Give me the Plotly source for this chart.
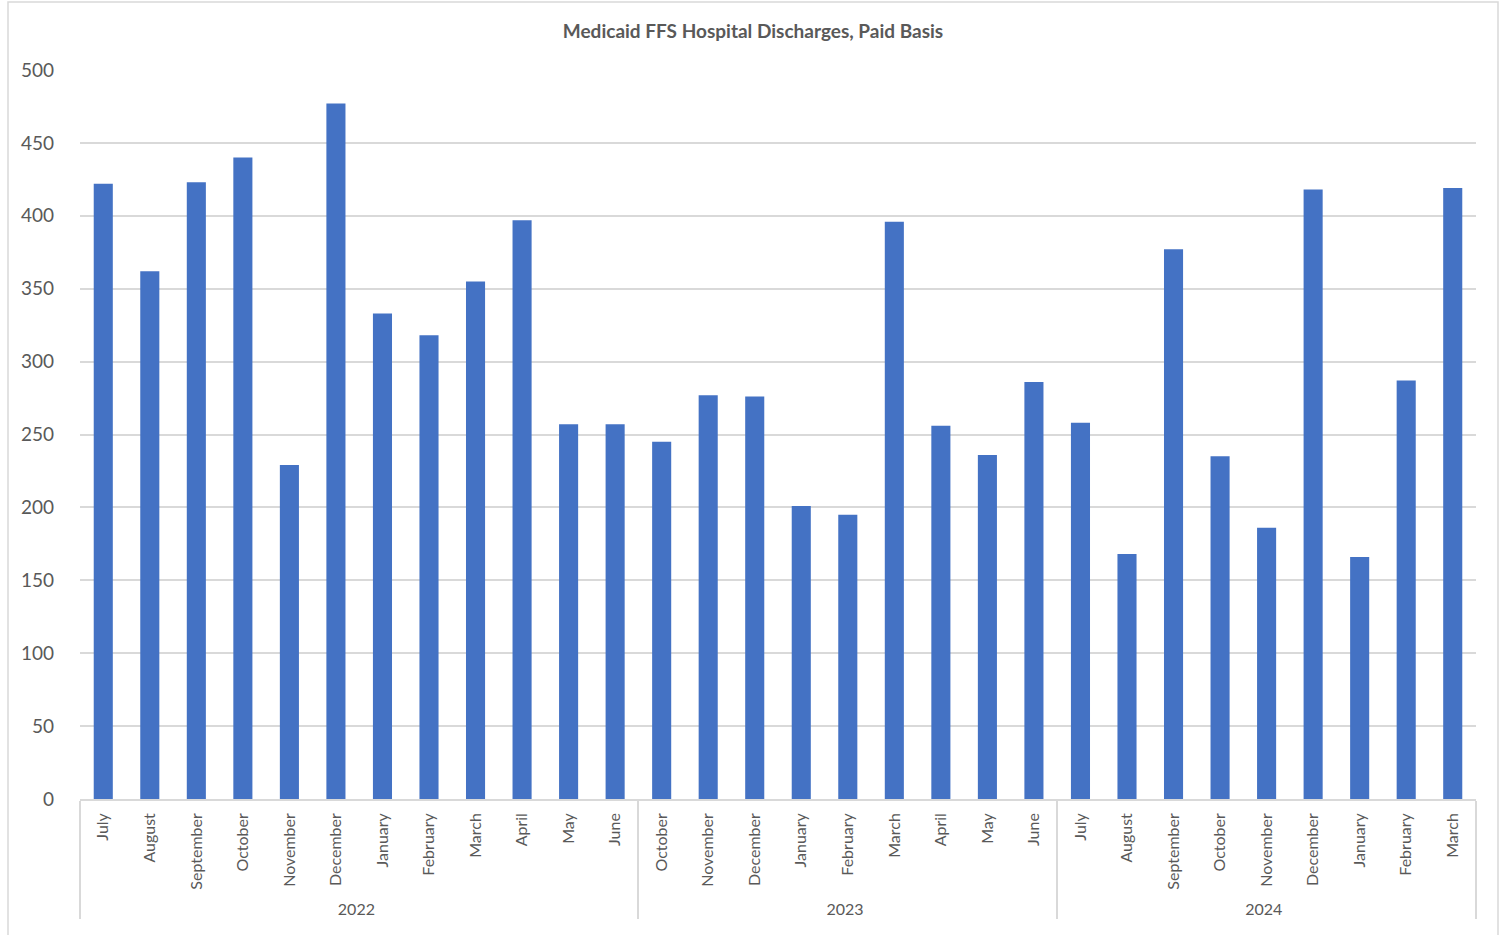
import plotly.graph_objects as go

# Fiscal year groups and the months within each
years = ["2022"] * 12 + ["2023"] * 9 + ["2024"] * 9
months = [
    "July", "August", "September", "October", "November", "December",
    "January", "February", "March", "April", "May", "June",
    "October", "November", "December", "January", "February", "March",
    "April", "May", "June",
    "July", "August", "September", "October", "November", "December",
    "January", "February", "March",
]
discharges = [
    422, 362, 423, 440, 229, 477, 333, 318, 355, 397, 257, 257,
    245, 277, 276, 201, 195, 396, 256, 236, 286,
    258, 168, 377, 235, 186, 418, 166, 287, 419,
]

W, H = 1506, 935
L, R, T, B = 80, 30, 70, 136
pw, ph = W - L - R, H - T - B


def px_x(x):
    return (x - L) / pw


def px_y(y):
    return (H - B - y) / ph


fig = go.Figure(
    go.Bar(
        x=[years, months],
        y=discharges,
        marker=dict(color="#4472C4", line=dict(width=0)),
    )
)

fig.update_layout(
    width=W,
    height=H,
    margin=dict(l=L, r=R, t=T, b=B),
    paper_bgcolor="white",
    plot_bgcolor="white",
    bargap=0.59,
    showlegend=False,
    title=dict(
        text="<b>Medicaid FFS Hospital Discharges, Paid Basis</b>",
        x=0.5,
        xanchor="center",
        y=1 - 31 / H,
        yanchor="middle",
        font=dict(family="Lato, Open Sans, sans-serif", size=19, color="#595959"),
    ),
    font=dict(family="Lato, Open Sans, sans-serif", color="#595959"),
    xaxis=dict(
        type="multicategory",
        tickangle=-90,
        tickfont=dict(size=16, color="#595959"),
        ticklabelstandoff=6,
        showline=True,
        linecolor="#D9D9D9",
        linewidth=1.5,
        showdividers=True,
        dividercolor="#D9D9D9",
        dividerwidth=1.5,
        ticks="",
        showgrid=False,
    ),
    yaxis=dict(
        range=[0, 500],
        dtick=50,
        showgrid=True,
        gridcolor="#D9D9D9",
        gridwidth=1.5,
        zeroline=False,
        showline=False,
        ticks="",
        tickfont=dict(size=19, color="#595959"),
        ticklabelstandoff=25,
    ),
    shapes=[
        dict(
            type="rect",
            xref="paper",
            yref="paper",
            x0=px_x(8),
            x1=px_x(1498),
            y0=px_y(945),
            y1=px_y(2),
            line=dict(color="#D9D9D9", width=1.5),
            fillcolor="rgba(0,0,0,0)",
            layer="below",
        )
    ],
)

fig.write_html("out.html")
